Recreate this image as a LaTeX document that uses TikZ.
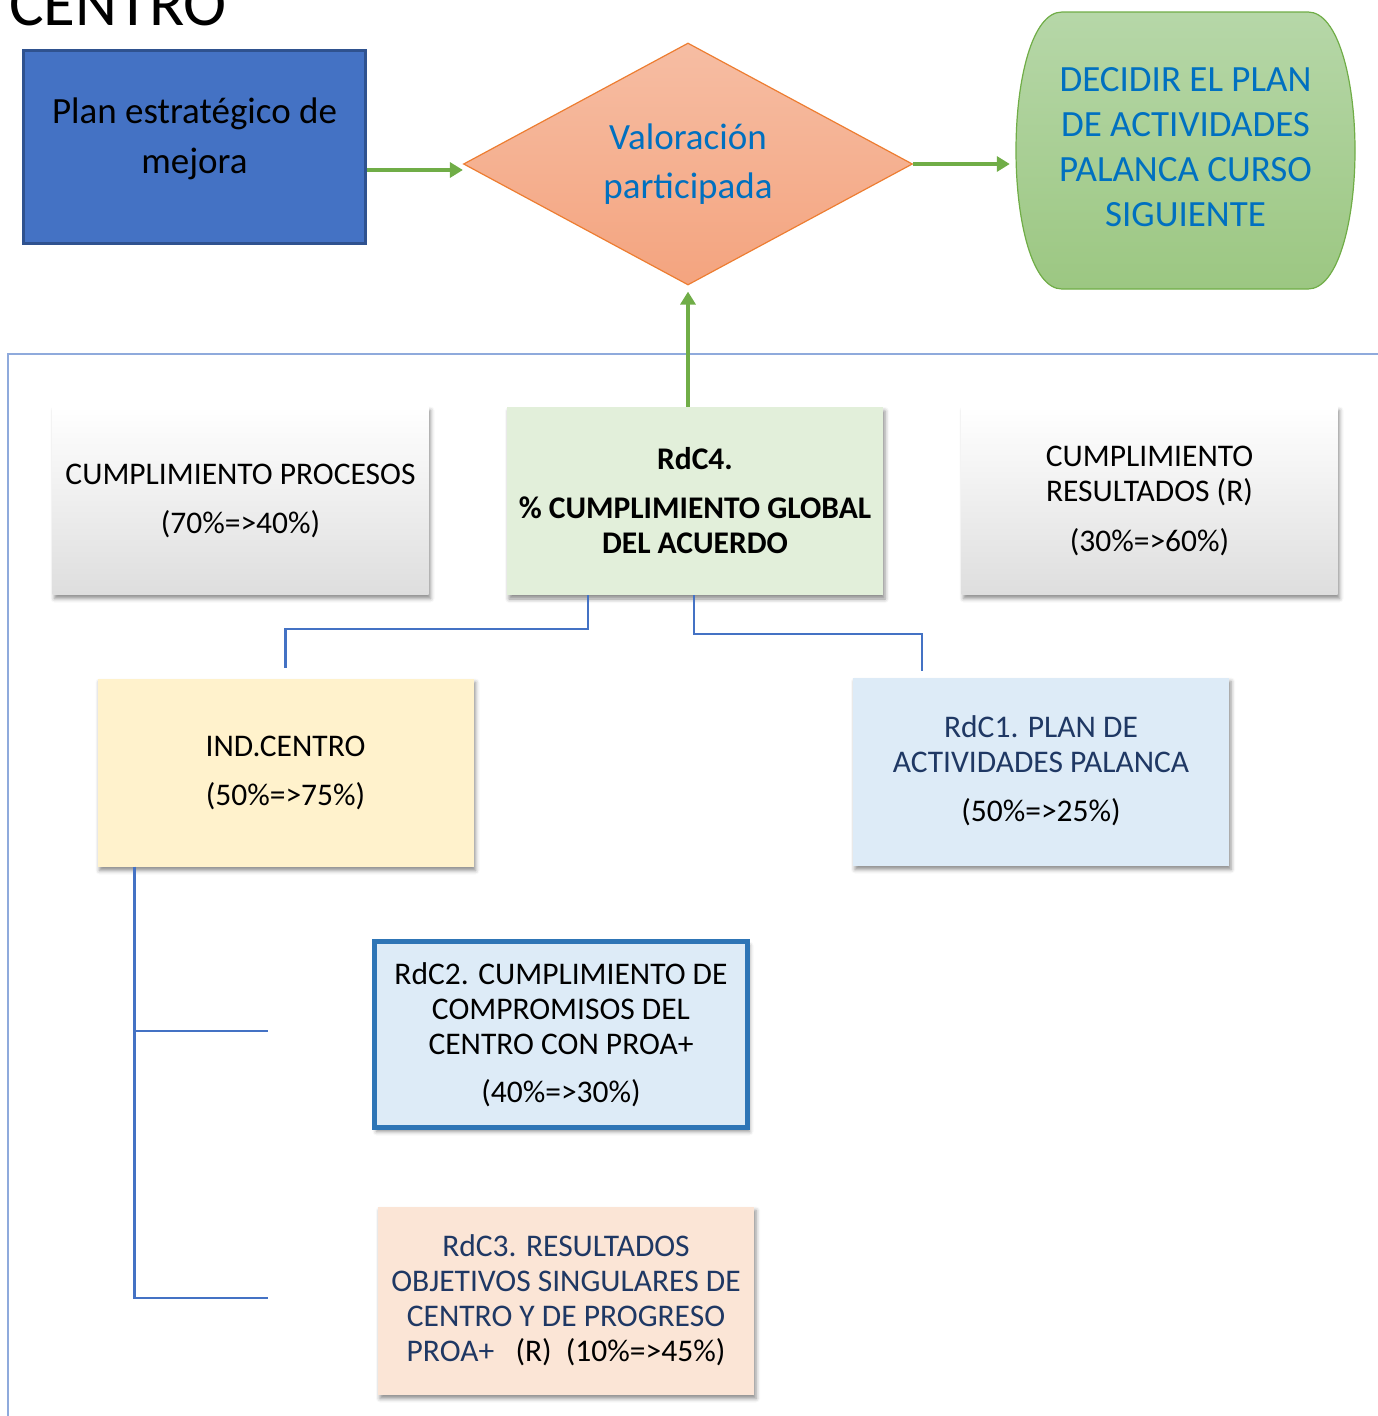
\documentclass[tikz,border=0pt]{standalone}
\usepackage{fontspec}
\setmainfont{Carlito}
\usetikzlibrary{arrows.meta,shapes.geometric,shadows.blur,calc}
\definecolor{planfill}{HTML}{4472C4}
\definecolor{planedge}{HTML}{2F528F}
\definecolor{arrowgreen}{HTML}{70AD47}
\definecolor{txtblue}{HTML}{0070C0}
\definecolor{dmtop}{HTML}{F6BDA3}
\definecolor{dmbot}{HTML}{F4A47F}
\definecolor{dmedge}{HTML}{ED7D31}
\definecolor{grtop}{HTML}{B6D7A8}
\definecolor{grbot}{HTML}{9CC782}
\definecolor{framecol}{HTML}{8FAADC}
\definecolor{conncol}{HTML}{4472C4}
\definecolor{rdcfourfill}{HTML}{E2EFDA}
\definecolor{indfill}{HTML}{FFF2CC}
\definecolor{lbfill}{HTML}{DDEBF7}
\definecolor{rdctwoedge}{HTML}{2E75B6}
\definecolor{peachfill}{HTML}{FBE5D6}
\definecolor{dkblue}{HTML}{1F3864}
\newcommand{\dpstrut}[1]{\rule[-#1]{0pt}{#1}}
\begin{document}
\begin{tikzpicture}[x=1pt,y=-1pt,
  arr/.style={draw=arrowgreen, line width=4pt, -{Triangle[length=13pt,width=15pt]}},
  conn/.style={draw=conncol, line width=2.5pt},
  framestyle/.style={draw=framecol, line width=2.5pt},
  bigtext/.style={font=\fontsize{37}{50}\selectfont},
  box/.style={rectangle, inner sep=0pt, align=center,
    font=\fontsize{31.5}{35}\selectfont,
    minimum width=376pt, minimum height=188pt,
    blur shadow={shadow xshift=2pt, shadow yshift=-4pt, shadow blur radius=4pt, shadow opacity=45}},
  graybox/.style={box, top color=white, middle color=white, bottom color=black!13}
]
\useasboundingbox (0,0) rectangle (1378,1416);

% title fragment
\node[anchor=base west, inner sep=0pt, font=\fontsize{65}{78}\selectfont] (centro) at (9,25) {CENTRO};

% top row
\node[rectangle, inner sep=0pt, align=center, bigtext, fill=planfill, draw=planedge, line width=2.5pt,
  minimum width=342pt, minimum height=193pt] (plan) at (194.5,147) {Plan estratégico de\\mejora\dpstrut{22pt}};

\node[diamond, aspect=1.855, minimum width=449pt, minimum height=242pt, inner sep=0pt,
  draw=dmedge, line width=1.2pt, top color=dmtop, bottom color=dmbot,
  text=txtblue, align=center, font=\fontsize{37}{49}\selectfont] (val) at (688,164) {Valoración\\participada};

\path[draw=arrowgreen, line width=1.2pt, top color=grtop, bottom color=grbot]
  (1062,12) -- (1308,12) .. controls (1338,12) and (1355,80) .. (1355,150.5)
  .. controls (1355,221) and (1338,289) .. (1308,289) -- (1062,289)
  .. controls (1032,289) and (1016,221) .. (1016,150.5)
  .. controls (1016,80) and (1032,12) .. (1062,12) -- cycle;
\node[rectangle, inner sep=0pt, align=center, text=txtblue, font=\fontsize{37}{45}\selectfont,
  minimum width=339pt, minimum height=277pt] (dec) at (1185.5,150.5)
  {DECIDIR EL PLAN\\DE ACTIVIDADES\\PALANCA CURSO\\SIGUIENTE\dpstrut{8pt}};

% frame
\draw[framestyle] (8,1420) -- (8,354) -- (1382,354);

% second row
\node[graybox] (proc) at (240.5,500.5) {CUMPLIMIENTO PROCESOS\\[14pt](70\%=>40\%)};
\node[box, fill=rdcfourfill, font=\fontsize{31.5}{35}\selectfont\bfseries] (rdc4) at (695,501)
  {RdC4.\\[14pt]\% CUMPLIMIENTO GLOBAL\\DEL ACUERDO};
\node[graybox] (res) at (1149.5,500.5) {CUMPLIMIENTO\\RESULTADOS (R)\\[15pt](30\%=>60\%)};

% third row
\node[box, fill=indfill] (ind) at (285.5,772.5) {IND.CENTRO\\[14pt](50\%=>75\%)};
\node[box, fill=lbfill] (rdc1) at (1041,771.5)
  {\textcolor{dkblue}{RdC1. PLAN DE}\\\textcolor{dkblue}{ACTIVIDADES PALANCA}\\[14pt](50\%=>25\%)\dpstrut{5pt}};

% lower boxes
\node[box, fill=lbfill, draw=rdctwoedge, line width=5pt, minimum width=373pt, minimum height=186pt] (rdc2) at (561,1034.5)
  {RdC2. CUMPLIMIENTO DE\\COMPROMISOS DEL\\CENTRO CON PROA+\\[13pt](40\%=>30\%)};
\node[box, fill=peachfill] (rdc3) at (566,1300.5)
  {\textcolor{dkblue}{RdC3. RESULTADOS}\\\textcolor{dkblue}{OBJETIVOS SINGULARES DE}\\\textcolor{dkblue}{CENTRO Y DE PROGRESO}\\\textcolor{dkblue}{PROA+}\ \ \ (R)\ \ (10\%=>45\%)};

% arrows
\coordinate (yplan) at (0,170);
\draw[arr] (plan.east |- yplan) -- (val.west |- yplan);
\draw[arr, shorten >=6pt] (val.east) -- (dec.west |- val.east);
\draw[arr, shorten >=6pt] (rdc4.north -| val.south) -- (val.south);

% connectors
\draw[conn] ([xshift=-107pt]rdc4.south) -- ++(0,34) -| ([yshift=10pt]ind.north);
\draw[conn] ([xshift=-1pt]rdc4.south) -- ++(0,39) -| ([xshift=-119pt,yshift=6pt]rdc1.north);
\coordinate (trunk) at ([xshift=37pt]ind.south west);
\coordinate (b2) at (268,1031);
\coordinate (b3) at (268,1298);
\draw[conn] (trunk) |- (b3);
\draw[conn] (trunk |- b2) -- (b2);
\end{tikzpicture}
\end{document}
